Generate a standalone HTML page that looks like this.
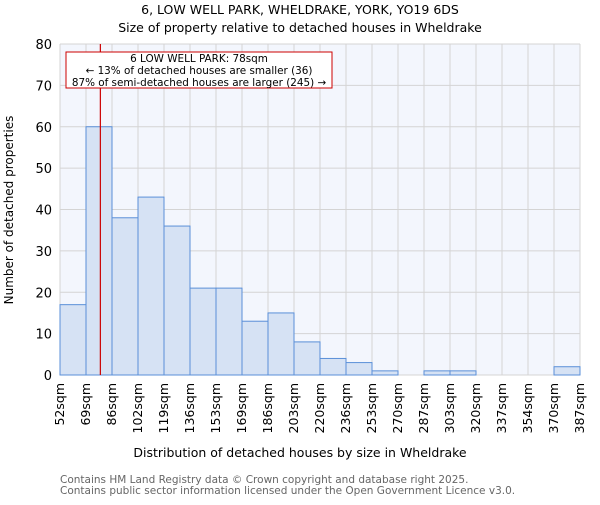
<!DOCTYPE html>
<html><head><meta charset="utf-8"><style>
body{margin:0;background:#fff;}
svg{font-family:"DejaVu Sans","Liberation Sans",sans-serif;}
</style></head><body>
<svg id="chart" width="600" height="500" xmlns="http://www.w3.org/2000/svg">
<text x="300" y="14" text-anchor="middle" font-size="12.5">6, LOW WELL PARK, WHELDRAKE, YORK, YO19 6DS</text>
<text x="300" y="32" text-anchor="middle" font-size="12.5">Size of property relative to detached houses in Wheldrake</text>
<rect x="60" y="44" width="520" height="331" fill="#f3f6fd"/>
<g id="grid"></g>
<g id="bars"></g>
<g id="yticks"></g>
<g id="xticks"></g>
<line id="marker" stroke="#cc0000" stroke-width="1.2"/>
<rect x="66" y="52" width="266" height="36" fill="#fff" stroke="#cc0000" stroke-width="1"/>
<text x="199" y="62" text-anchor="middle" font-size="10.4">6 LOW WELL PARK: 78sqm</text>
<text x="199" y="74" text-anchor="middle" font-size="10.4">← 13% of detached houses are smaller (36)</text>
<text x="199" y="86" text-anchor="middle" font-size="10.4">87% of semi-detached houses are larger (245) →</text>
<text x="13" y="210" text-anchor="middle" font-size="12" transform="rotate(-90 13 210)">Number of detached properties</text>
<text x="300" y="457" text-anchor="middle" font-size="12.5">Distribution of detached houses by size in Wheldrake</text>
<text x="60" y="483" font-size="10.5" fill="#666">Contains HM Land Registry data © Crown copyright and database right 2025.</text>
<text x="60" y="494" font-size="10.5" fill="#666">Contains public sector information licensed under the Open Government Licence v3.0.</text>
</svg>
<script>
const binLabels=["52sqm","69sqm","86sqm","102sqm","119sqm","136sqm","153sqm","169sqm","186sqm","203sqm","220sqm","236sqm","253sqm","270sqm","287sqm","303sqm","320sqm","337sqm","354sqm","370sqm","387sqm"];
const counts=[17,60,38,43,36,21,21,13,15,8,4,3,1,0,1,1,0,0,0,2];
const yTicks=[0,10,20,30,40,50,60,70,80];
const propertySize=78;
const binStart=52, binWidth=16.75;
const X0=60,X1=580,Y0=375,Y1=44,YMAX=80;
const NS="http://www.w3.org/2000/svg";
const bw=(X1-X0)/counts.length;
const xb=i=>X0+i*bw;
const xv=v=>X0+(v-binStart)/binWidth*bw;
const y=v=>Y0-(v/YMAX)*(Y0-Y1);
function mk(tag,attrs,parent){const e=document.createElementNS(NS,tag);for(const k in attrs)e.setAttribute(k,attrs[k]);document.getElementById(parent).appendChild(e);return e;}
for(let i=0;i<=counts.length;i++){
  const l=mk('line',{x1:xb(i),x2:xb(i),y1:Y1,y2:Y0,stroke:'#d4d4d4'},'grid');
  
  
}
yTicks.forEach(t=>{
  const l=mk('line',{x1:X0,x2:X1,y1:y(t),y2:y(t),stroke:'#d4d4d4'},'grid');
  
  
  const tx=mk('text',{x:X0-8,y:y(t)+5,'text-anchor':'end','font-size':'13'},'yticks');
  tx.textContent=t;
  
  
});
counts.forEach((c,i)=>{
  if(c<=0)return;
  const r=mk('rect',{x:xb(i),y:y(c),width:bw,height:Y0-y(c),fill:'#d6e2f4',stroke:'#5a8fd8','stroke-width':'1'},'bars');
  
  
});
binLabels.forEach((lb,i)=>{
  const x=xb(i)+4;
  const tx=mk('text',{x:x,y:383,'text-anchor':'end','font-size':'12.5',transform:`rotate(-90 ${x} 383)`},'xticks');
  tx.textContent=lb;
  
  
});
const m=document.getElementById('marker');
m.setAttribute('x1',xv(propertySize));m.setAttribute('x2',xv(propertySize));
m.setAttribute('y1',Y1);m.setAttribute('y2',Y0);
</script>
</body></html>
